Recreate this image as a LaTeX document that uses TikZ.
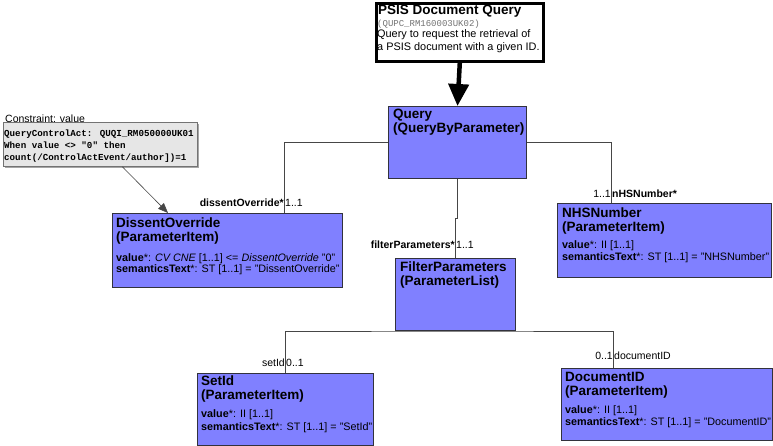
\documentclass[tikz,border=0pt]{standalone}
\usepackage{fontspec}
\setmainfont{Liberation Sans}
\newfontfamily\monof{Liberation Mono}
\usetikzlibrary{arrows.meta,calc}
\definecolor{clsfill}{RGB}{128,128,255}
\definecolor{clsdraw}{RGB}{50,50,60}
\definecolor{cstfill}{RGB}{230,230,230}
\definecolor{lnk}{RGB}{70,70,70}
\tikzset{
  cls/.style={draw=clsdraw, fill=clsfill, line width=1pt, anchor=north west, inner sep=0pt},
  ttl/.style={anchor=north west, inner sep=0pt, align=left, font=\fontsize{13.5}{14}\selectfont\bfseries},
  attr/.style={anchor=north west, inner sep=0pt, align=left, font=\fontsize{10.8}{12.5}\selectfont},
  lbl/.style={inner sep=0.5pt, font=\fontsize{10.5}{11}\selectfont},
  blbl/.style={inner sep=0.5pt, font=\fontsize{10.5}{11}\selectfont\bfseries},
  link/.style={draw=lnk, line width=0.8pt},
}
\begin{document}
\begin{tikzpicture}[x=1pt,y=-1pt]
\useasboundingbox (0,0) rectangle (773,446);
% PSIS entry box
\node[draw=black, fill=white, line width=2.6pt, anchor=north west, minimum width=167pt, minimum height=58pt, inner sep=0pt] (psis) at (375,2) {};
\node[anchor=north west, inner sep=0pt, font=\fontsize{13.5}{14}\selectfont\bfseries] (psist) at (378,5) {PSIS Document Query};
\node[anchor=north west, inner sep=0pt, font=\fontsize{9}{9}\monof, text=black!55] (psisid) at (377,20) {(QUPC\_RM160003UK02)};
\node[anchor=north west, inner sep=0pt, align=left, font=\fontsize{10.9}{13}\selectfont] (psisd) at (377,29) {Query to request the retrieval of\\a PSIS document with a given ID.};
% Query
\node[cls, minimum width=138pt, minimum height=72pt] (query) at (388,106) {};
\node[ttl, font=\fontsize{13.5}{13.5}\selectfont\bfseries] (queryt) at (393,109) {Query\\(QueryByParameter)};
\draw[line width=4.5pt, -{Triangle[length=22pt,width=20pt]}] (psis.south) -- (query.north);
% Constraint
\fill[black!35] (5,124) rectangle (199,168);
\node[draw=black!55, fill=cstfill, line width=0.8pt, anchor=north west, minimum width=194pt, minimum height=44pt, inner sep=0pt] (cst) at (3,122) {};
\node[fill=white, anchor=west, inner xsep=1pt, inner ysep=0pt, font=\fontsize{10.5}{11}\selectfont] (cstl) at (4,118.5) {Constraint: value};
\node[anchor=north west, inner sep=0pt, align=left, font=\fontsize{9.2}{11.6}\monof\bfseries] (cstt) at (4,130) {QueryControlAct: QUQI\_RM050000UK01\\When value <> "0" then\\count(/ControlActEvent/author])=1};
% DissentOverride
\node[cls, minimum width=230pt, minimum height=74pt] (diss) at (112,213) {};
\node[ttl] (disst) at (116,218) {DissentOverride\\(ParameterItem)};
\node[attr, font=\fontsize{10.8}{11.5}\selectfont] (dissa) at (116,253) {\textbf{value}*: \textit{CV CNE} [1..1] <= \textit{DissentOverride} "0"\\\textbf{semanticsText}*: ST [1..1] = "DissentOverride"};
\draw[lnk, line width=0.6pt, -{Triangle[length=10pt,width=8pt]}] ([xshift=22pt]cst.south) -- ([xshift=56pt]diss.north west);
% NHSNumber
\node[cls, minimum width=214pt, minimum height=74pt] (nhs) at (557,203) {};
\node[ttl] (nhst) at (562,208) {NHSNumber\\(ParameterItem)};
\node[attr] (nhsa) at (562,240) {\textbf{value}*: II [1..1]\\\textbf{semanticsText}*: ST [1..1] = "NHSNumber"};
% FilterParameters
\node[cls, minimum width=120pt, minimum height=72pt] (filt) at (395,258) {};
\node[ttl] (filtt) at (400,262) {FilterParameters\\(ParameterList)};
% SetId
\node[cls, minimum width=176pt, minimum height=72pt] (setid) at (197,373) {};
\node[ttl] (setidt) at (201,376) {SetId\\(ParameterItem)};
\node[attr, font=\fontsize{10.8}{13.5}\selectfont] (setida) at (201,409) {\textbf{value}*: II [1..1]\\\textbf{semanticsText}*: ST [1..1] = "SetId"};
% DocumentID
\node[cls, minimum width=211pt, minimum height=72pt] (docid) at (561,368) {};
\node[ttl] (docidt) at (565,372) {DocumentID\\(ParameterItem)};
\node[attr] (docida) at (565,405) {\textbf{value}*: II [1..1]\\\textbf{semanticsText}*: ST [1..1] = "DocumentID"};
% connectors
\draw[link] (query.west) -| ([xshift=57pt]diss.north) coordinate (dx);
\draw[link] (query.east) -| ([xshift=-53pt]nhs.north) coordinate (nx);
\draw[link] (query.south) -- ++(0,39) coordinate (jog) -| (filt.north);
\draw[link] (setid.north) |- (filt.south) -| ([xshift=-53.5pt]docid.north) coordinate (ddx);
% connector labels
\node[blbl, anchor=base east] (l1) at ([yshift=6pt]dx) {dissentOverride*};
\node[lbl, anchor=base west] (l1m) at ([yshift=6pt]dx) {1..1};
\node[lbl, anchor=base east] (l2m) at ([yshift=5pt]nx) {1..1};
\node[blbl, anchor=base west] (l2) at ([yshift=5pt]nx) {nHSNumber*};
\node[blbl, anchor=base east] (l3) at ([yshift=9pt]filt.north) {filterParameters*};
\node[lbl, anchor=base west] (l3m) at ([yshift=9pt]filt.north) {1..1};
\node[lbl, anchor=base east] (l4) at ([yshift=7pt]setid.north) {setId};
\node[lbl, anchor=base west] (l4m) at ([yshift=7pt]setid.north) {0..1};
\node[lbl, anchor=base east] (l5m) at ([yshift=9pt]ddx) {0..1};
\node[lbl, anchor=base west] (l5) at ([yshift=9pt]ddx) {documentID};
\end{tikzpicture}
\end{document}
